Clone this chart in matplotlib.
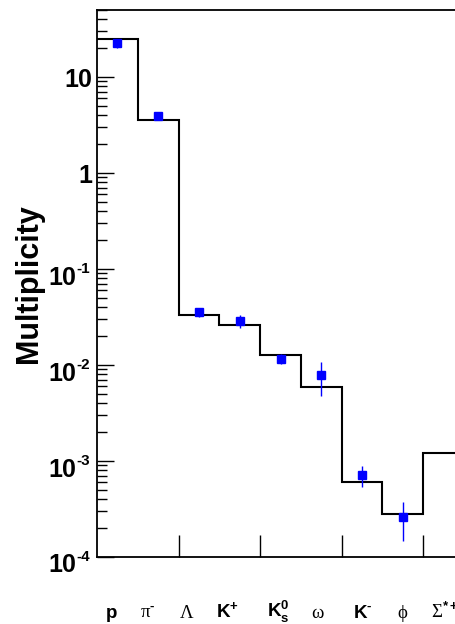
import numpy as np
import matplotlib
matplotlib.use("Agg")
import matplotlib.pyplot as plt
from matplotlib.ticker import LogLocator, FixedLocator, NullFormatter

plt.rcParams['font.family'] = ['Liberation Sans', 'DejaVu Sans']
# bold sans for latin letters, serif (via \mathcal) for greek letters
plt.rcParams['mathtext.fontset'] = 'custom'
plt.rcParams['mathtext.rm'] = 'Liberation Sans:bold'
plt.rcParams['mathtext.bf'] = 'Liberation Sans:bold'
plt.rcParams['mathtext.cal'] = 'Liberation Serif'

# particle species, one bin each
particles = [r'$\mathbf{p}$', r'$\mathcal{\pi}^{\text{-}}$', r'$\mathcal{\Lambda}$',
             r'$\mathbf{K}^{\mathbf{+}}$', r'$\mathbf{K}_{\mathbf{s}}^{\mathbf{0}}$',
             r'$\mathcal{\omega}$', r'$\mathbf{K}^{\text{-}}$', r'$\mathcal{\phi}$',
             r'$\mathcal{\Sigma}^{\mathbf{*+}}$']

# model multiplicities (histogram)
model = [25.0, 3.55, 0.0335, 0.0259, 0.0128, 0.0059, 6.0e-4, 2.83e-4, 1.22e-3]

# measured multiplicities with lower / upper bounds
meas = [22.4, 3.95, 0.0354, 0.0285, 0.01155, 0.0079, 7.2e-4, 2.59e-4]
meas_lo = [20.2, 3.75, 0.0315, 0.0242, 0.0102, 0.0048, 5.3e-4, 1.48e-4]
meas_hi = [24.4, 4.15, 0.0395, 0.0330, 0.0130, 0.0108, 8.9e-4, 3.7e-4]

# where the species names sit along x (bin units)
label_x = [0.34, 1.25, 2.2, 3.21, 4.44, 5.42, 6.51, 7.5, 8.54]

# y axis decades and their exponents ('' = no exponent shown)
decades = [1e-4, 1e-3, 1e-2, 1e-1, 1, 10]
dec_base = ['10', '10', '10', '10', '1', '10']
dec_exp = ['-4', '-3', '-2', '-1', '', '']

fig = plt.figure(figsize=(4.56, 6.24), dpi=100)
ax = fig.add_axes([0.2127, 0.1074, 0.805, 0.8766])

edges = np.arange(len(model) + 1)
ax.stairs(model, edges, color='black', lw=1.5, baseline=None, zorder=2)

centers = np.arange(len(meas)) + 0.5
meas = np.array(meas)
yerr = [meas - np.array(meas_lo), np.array(meas_hi) - meas]
ax.errorbar(centers, meas, yerr=yerr, fmt='s', color='blue', ms=5.5,
            elinewidth=1, capsize=0, zorder=3)

ax.set_yscale('log')
ax.set_ylim(1e-4, 50)
ax.set_xlim(0, len(model))

# y ticks, labels drawn by hand below
ax.yaxis.set_major_locator(FixedLocator(decades))
ax.yaxis.set_major_formatter(NullFormatter())
ax.yaxis.set_minor_locator(LogLocator(base=10, subs=np.arange(2, 10), numticks=20))
ax.yaxis.set_minor_formatter(NullFormatter())
ax.tick_params(axis='y', which='major', direction='in', length=12, width=1, right=False)
ax.tick_params(axis='y', which='minor', direction='in', length=7, width=1, right=False)

for val, base, ex in zip(decades, dec_base, dec_exp):
    if ex:
        ax.annotate(base, xy=(0, val), xycoords=('axes fraction', 'data'),
                    xytext=(-21, -15.5), textcoords='offset pixels',
                    ha='right', va='baseline', fontsize=18, fontweight='bold')
        ax.annotate(ex, xy=(0, val), xycoords=('axes fraction', 'data'),
                    xytext=(-21, -4), textcoords='offset pixels',
                    ha='left', va='baseline', fontsize=11, fontweight='bold')
    else:
        ax.annotate(base, xy=(0, val), xycoords=('axes fraction', 'data'),
                    xytext=(-5, -10), textcoords='offset pixels',
                    ha='right', va='baseline', fontsize=18, fontweight='bold')

# x axis: ticks every two bins, no numbers
ax.set_xticks([2, 4, 6, 8])
ax.set_xticklabels([])
ax.tick_params(axis='x', which='major', direction='in', length=16, width=1, top=False)
ax.tick_params(axis='x', which='minor', bottom=False, top=False)

for s in ax.spines.values():
    s.set_linewidth(1.3)

ax.set_ylabel('Multiplicity', fontsize=22, fontweight='bold')
ax.yaxis.set_label_coords(-0.145, 0.5)

for xl, name in zip(label_x, particles):
    ax.text(xl, -0.111, name, transform=ax.get_xaxis_transform(),
            ha='center', va='baseline', fontsize=13.5, clip_on=False)

fig.savefig('out.png', dpi=100)
